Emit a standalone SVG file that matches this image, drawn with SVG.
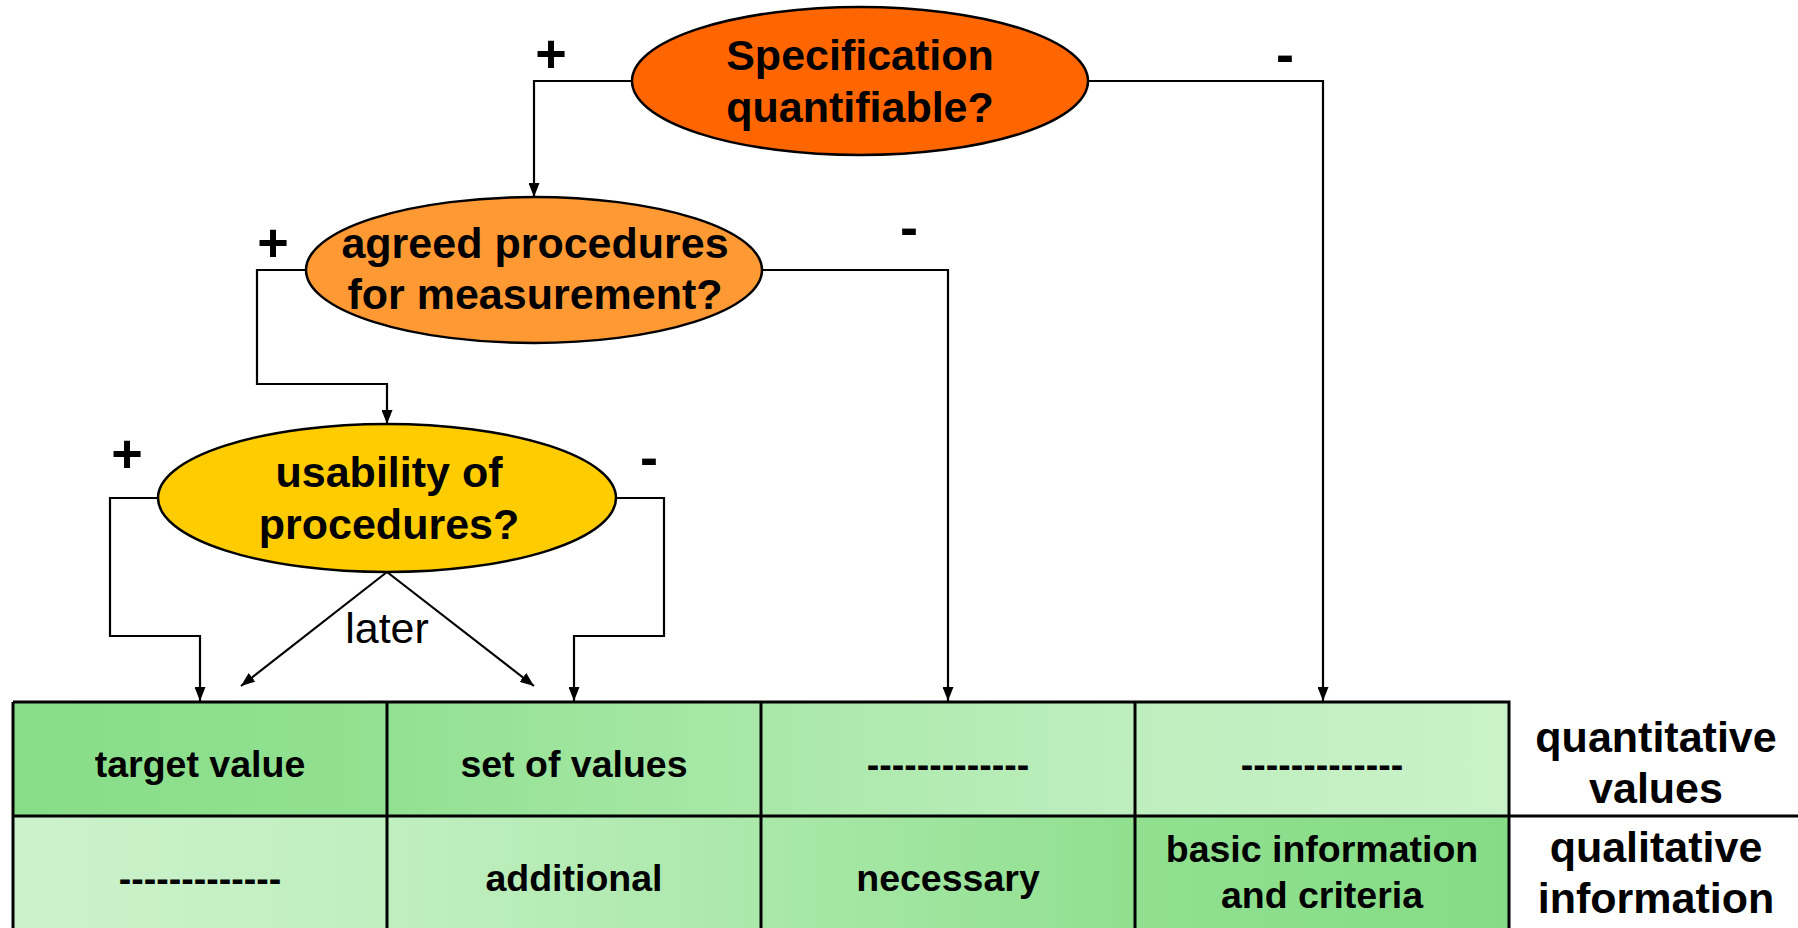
<svg xmlns="http://www.w3.org/2000/svg" width="1798" height="928" viewBox="0 0 1798 928">
  <style>
    .b { font-family: "Liberation Sans", Arial, sans-serif; font-weight: bold; fill: #000; text-anchor: middle; }
    .n43 { font-size: 43px; }
    .n37 { font-size: 37.5px; }
    .sign { font-size: 54px; }
    .reg { font-family: "Liberation Sans", Arial, sans-serif; font-size: 43px; fill: #000; text-anchor: middle; }
    .ell { stroke: #000; stroke-width: 2.5; }
    .conn { fill: none; stroke: #000; stroke-width: 2.2; marker-end: url(#arr); }
    .grid { fill: none; stroke: #000; stroke-width: 3; }
  </style>
  <defs>
    <marker id="arr" viewBox="0 0 14 11" refX="14" refY="5.5" markerWidth="14" markerHeight="11" markerUnits="userSpaceOnUse" orient="auto">
      <path d="M0,0 L14,5.5 L0,11 z" fill="#000"/>
    </marker>
    <linearGradient id="row1" gradientUnits="userSpaceOnUse" x1="13" y1="0" x2="1509" y2="0">
      <stop offset="0" stop-color="#88DD88"/>
      <stop offset="0.25" stop-color="#92E192"/>
      <stop offset="0.5" stop-color="#A9E8A9"/>
      <stop offset="0.75" stop-color="#BEEEBE"/>
      <stop offset="1" stop-color="#C9F2C9"/>
    </linearGradient>
    <linearGradient id="row2" gradientUnits="userSpaceOnUse" x1="13" y1="0" x2="1509" y2="0">
      <stop offset="0" stop-color="#CCF2CC"/>
      <stop offset="0.25" stop-color="#C0EFC0"/>
      <stop offset="0.5" stop-color="#AAE8AA"/>
      <stop offset="0.75" stop-color="#90E090"/>
      <stop offset="1" stop-color="#86DC86"/>
    </linearGradient>
  </defs>

  <rect x="0" y="0" width="1798" height="928" fill="#fff"/>

  <g id="table">
    <rect x="13" y="702" width="1496" height="114" fill="url(#row1)"/>
    <rect x="13" y="816" width="1496" height="114" fill="url(#row2)"/>
    <path class="grid" d="M13,702 H1509 V930 M13,702 V930 M387,702 V930 M761,702 V930 M1135,702 V930 M13,816 H1798"/>
  </g>

  <g id="cell-r1c1"><text class="b n37" x="200" y="777">target value</text></g>
  <g id="cell-r1c2"><text class="b n37" x="574" y="777">set of values</text></g>
  <g id="cell-r1c3"><text class="b n37" x="948" y="777">-------------</text></g>
  <g id="cell-r1c4"><text class="b n37" x="1322" y="777">-------------</text></g>
  <g id="cell-r2c1"><text class="b n37" x="200" y="891">-------------</text></g>
  <g id="cell-r2c2"><text class="b n37" x="574" y="891">additional</text></g>
  <g id="cell-r2c3"><text class="b n37" x="948" y="891">necessary</text></g>
  <g id="cell-r2c4"><text class="b n37" x="1322" y="862">basic information</text><text class="b n37" x="1322" y="908">and criteria</text></g>
  <g id="row-label-1"><text class="b n43" x="1656" y="752">quantitative</text><text class="b n43" x="1656" y="803">values</text></g>
  <g id="row-label-2"><text class="b n43" x="1656" y="862">qualitative</text><text class="b n43" x="1656" y="913">information</text></g>

  <g id="connectors">
    <path class="conn" d="M633,81 H534 V197"/>
    <path class="conn" d="M1088,81 H1323 V701"/>
    <path class="conn" d="M762,270 H948 V701"/>
    <path class="conn" d="M306,270 H257 V384 H387 V424"/>
    <path class="conn" d="M159,498 H110 V636 H200 V701"/>
    <path class="conn" d="M615,498 H664 V636 H574 V701"/>
    <path class="conn" d="M387,572 L241,686"/>
    <path class="conn" d="M387,572 L534,686"/>
    <text class="b sign" x="551" y="72">+</text>
    <text class="b sign" x="1285" y="73">-</text>
    <text class="b sign" x="273" y="261">+</text>
    <text class="b sign" x="909" y="246">-</text>
    <text class="b sign" x="127" y="472">+</text>
    <text class="b sign" x="649" y="476">-</text>
    <text class="reg" x="387" y="643">later</text>
  </g>

  <g id="node-specification">
    <ellipse class="ell" cx="860" cy="81" rx="228" ry="74" fill="#FF6600"/>
    <text class="b n43" x="860" y="70">Specification</text>
    <text class="b n43" x="860" y="122">quantifiable?</text>
  </g>
  <g id="node-agreed">
    <ellipse class="ell" cx="534" cy="270" rx="228" ry="73" fill="#FF9933"/>
    <text class="b n43" x="535" y="258">agreed procedures</text>
    <text class="b n43" x="535" y="309">for measurement?</text>
  </g>
  <g id="node-usability">
    <ellipse class="ell" cx="387" cy="498" rx="229" ry="74" fill="#FFCC00"/>
    <text class="b n43" x="389" y="487">usability of</text>
    <text class="b n43" x="389" y="539">procedures?</text>
  </g>
</svg>
